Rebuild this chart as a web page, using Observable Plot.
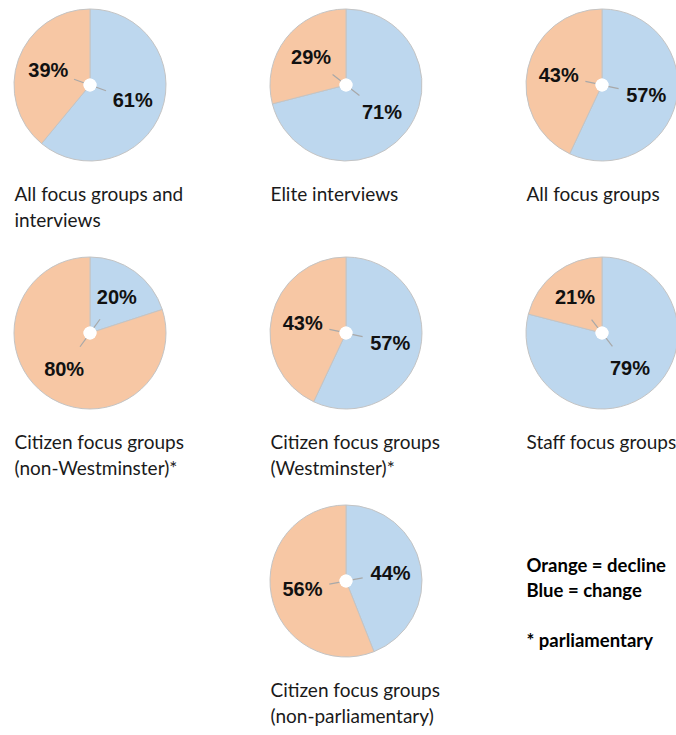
<!DOCTYPE html>
<html>
<head>
<meta charset="utf-8">
<script src="https://cdn.jsdelivr.net/npm/d3@7"></script>
<script src="https://cdn.jsdelivr.net/npm/@observablehq/plot@0.6"></script>
<style>
  html, body { margin: 0; padding: 0; background: #ffffff; }
  #chart svg { display: block; }
</style>
</head>
<body>
<div id="chart"></div>
<script>
// ---- data ----
const groups = [
  "All focus groups and\ninterviews",
  "Elite interviews",
  "All focus groups",
  "Citizen focus groups\n(non-Westminster)*",
  "Citizen focus groups\n(Westminster)*",
  "Staff focus groups",
  "Citizen focus groups\n(non-parliamentary)"
];
const changePct  = [61, 71, 57, 20, 57, 79, 44];
const declinePct = [39, 29, 43, 80, 43, 21, 56];
const seriesNames = ["change", "decline"];
const legendLines = ["Orange = decline", "Blue = change", "", "* parliamentary"];

// ---- layout helpers (grid of small multiples) ----
const colOf = i => (i < 6 ? i % 3 : 1);
const rowOf = i => Math.floor(i / 3);

const BLUE = "#bdd7ee";
const ORANGE = "#f7c7a4";
const R = 76;

const slices = [];
groups.forEach((g, i) => {
  const arcs = d3.pie().sort(null).value(d => d.value)([
    {type: seriesNames[0], value: changePct[i]},
    {type: seriesNames[1], value: declinePct[i]}
  ]);
  arcs.forEach(a => slices.push({
    group: g, col: colOf(i), row: rowOf(i),
    type: a.data.type, value: a.data.value,
    startAngle: a.startAngle, endAngle: a.endAngle
  }));
});
const pies = groups.map((g, i) => ({group: g, col: colOf(i), row: rowOf(i)}));
const legend = [{col: 2, row: 2, text: legendLines.join("\n")}];

const arcGen = d3.arc().innerRadius(0).outerRadius(R);

function pieRender(index, scales, values) {
  const g = d3.create("svg:g");
  for (const i of index) {
    const s = slices[i];
    g.append("path")
      .attr("transform", `translate(${values.x[i]},${values.y[i]})`)
      .attr("d", arcGen(s))
      .attr("fill", values.fill[i])
      .attr("stroke", "#c4c4c4")
      .attr("stroke-width", 1);
  }
  for (const i of index) {
    const s = slices[i];
    const m = (s.startAngle + s.endAngle) / 2;
    const cx = values.x[i], cy = values.y[i];
    g.append("line")
      .attr("x1", cx + 6 * Math.sin(m)).attr("y1", cy - 6 * Math.cos(m))
      .attr("x2", cx + 17 * Math.sin(m)).attr("y2", cy - 17 * Math.cos(m))
      .attr("stroke", "#a8a8a8").attr("stroke-width", 1.2);
  }
  for (const i of index) {
    g.append("circle")
      .attr("cx", values.x[i]).attr("cy", values.y[i]).attr("r", 6.5)
      .attr("fill", "#ffffff");
  }
  return g.node();
}

function labelRender(index, scales, values, dims, ctx, next) {
  const X = Float64Array.from(values.x), Y = Float64Array.from(values.y);
  for (const i of index) {
    const s = slices[i];
    const m = (s.startAngle + s.endAngle) / 2;
    X[i] += 0.59 * R * Math.sin(m);
    Y[i] -= 0.59 * R * Math.cos(m);
  }
  return next(index, scales, {...values, x: X, y: Y}, dims, ctx);
}

const chart = Plot.plot({
  width: 676,
  height: 735,
  margin: 0,
  style: {background: "#ffffff"},
  x: {type: "linear", domain: [0, 2], range: [90, 602], axis: null},
  y: {type: "linear", domain: [0, 2], range: [85, 581], axis: null},
  color: {domain: seriesNames, range: [BLUE, ORANGE]},
  marks: [
    Plot.dot(slices, {x: "col", y: "row", fill: "type", render: pieRender}),
    Plot.text(slices, {
      x: "col", y: "row", text: d => `${d.value}%`,
      fontSize: 20, fontWeight: "bold", fontFamily: "Liberation Sans, Arial, sans-serif",
      fill: "#111111", render: labelRender
    }),
    Plot.text(pies, {
      x: "col", y: "row", text: "group",
      dx: -76, dy: 97, textAnchor: "start", lineAnchor: "top",
      fontSize: 19, lineHeight: 1.37, fontFamily: "Lato, sans-serif", fill: "#1a1a1a"
    }),
    Plot.text(legend, {
      x: "col", y: "row", text: "text",
      dx: -76, dy: -27, textAnchor: "start", lineAnchor: "top",
      fontSize: 18.5, lineHeight: 1.35, fontWeight: "bold", fontFamily: "Lato, sans-serif", fill: "#000000"
    })
  ]
});
document.getElementById("chart").appendChild(chart);
</script>
</body>
</html>
